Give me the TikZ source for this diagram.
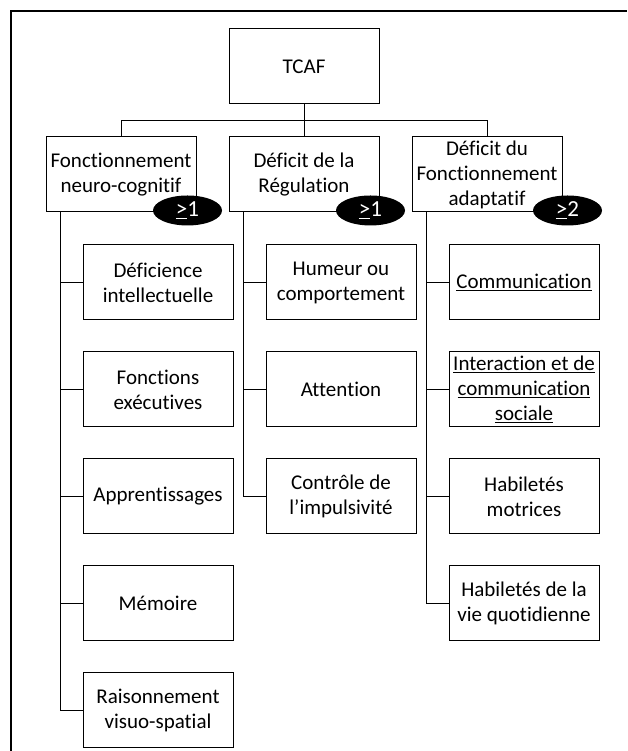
\documentclass[tikz,border=0pt]{standalone}
\usepackage{fontspec}
\setmainfont{Carlito}[Ligatures=NoCommon]
\usepackage{tikz}
\usetikzlibrary{positioning, shapes.geometric}

\begin{document}
\begin{tikzpicture}[
  x=1pt, y=1pt,
  node distance=31pt and 32pt,
  box/.style={draw, line width=1pt, minimum width=150pt, minimum height=75pt,
    inner xsep=1pt, inner ysep=0pt, font=\fontsize{21}{25}\selectfont, align=center},
  tag/.style={ellipse, fill=black, text=white, minimum width=69pt,
    minimum height=30pt, inner sep=0pt, font=\fontsize{23}{25}\selectfont},
  wire/.style={line width=1pt},
]
  \useasboundingbox (0,0) rectangle (627,751);
  \draw[line width=1.5pt] (11,0) -- (11,740) -- (627,740);

  \node[box] (tcaf) at (304,684.5) {TCAF};
  \node[box, below=32pt of tcaf] (reg) {Déficit de la\\Régulation};
  \node[box, left=32pt of reg] (neuro) {Fonctionnement\\neuro-cognitif};
  \node[box, right=32pt of reg] (adapt) {Déficit du\\Fonctionnement\\adaptatif};

  \node[box, below right=32pt and 37pt of neuro.south west] (defi) {Déficience\\intellectuelle};
  \node[box, below=of defi] (exec) {Fonctions\\exécutives};
  \node[box, below=of exec] (appr) {Apprentissages};
  \node[box, below=of appr] (memo) {Mémoire};
  \node[box, below=of memo] (rais) {Raisonnement\\visuo-spatial};

  \node[box, below right=32pt and 37pt of reg.south west] (hume) {Humeur ou\\comportement};
  \node[box, below=of hume] (atte) {Attention};
  \node[box, below=of atte] (impu) {Contrôle de\\l’impulsivité};

  \node[box, below right=32pt and 37pt of adapt.south west] (comm) {\underline{Communication}};
  \node[box, below=of comm] (inte) {\underline{Interaction et de}\\\underline{communication}\\\underline{sociale}};
  \node[box, below=of inte] (motr) {Habiletés\\motrices};
  \node[box, below=of motr] (quot) {Habiletés de la\\vie quotidienne};

  \coordinate[below=16pt of tcaf.south] (split);
  \coordinate[right=15pt of neuro.south west] (tneuro);
  \coordinate[right=15pt of reg.south west] (treg);
  \coordinate[right=15pt of adapt.south west] (tadapt);

  \draw[wire] (tcaf) -- (reg);
  \draw[wire] (split) -| (neuro);
  \draw[wire] (split) -| (adapt);
  \foreach \c in {defi, exec, appr, memo, rais}
    \draw[wire] (tneuro) |- (\c);
  \foreach \c in {hume, atte, impu}
    \draw[wire] (treg) |- (\c);
  \foreach \c in {comm, inte, motr, quot}
    \draw[wire] (tadapt) |- (\c);

  \node[tag] (neurotag) at ([xshift=-9pt, yshift=2pt]neuro.south east) {\underline{>}1};
  \node[tag] (regtag) at ([xshift=-9pt, yshift=2pt]reg.south east) {\underline{>}1};
  \node[tag] (adapttag) at ([xshift=5pt, yshift=2pt]adapt.south east) {\underline{>}2};
\end{tikzpicture}
\end{document}
